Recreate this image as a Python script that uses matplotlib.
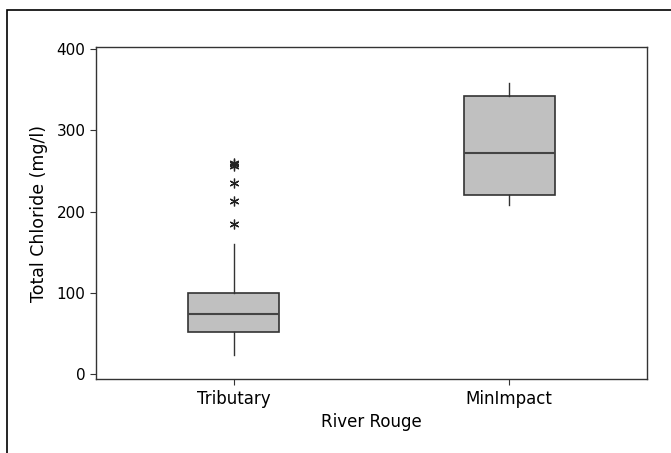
import matplotlib
matplotlib.use("Agg")
import matplotlib.pyplot as plt
from matplotlib.patches import Rectangle

categories = ["Tributary", "MinImpact"]
q1 = [51.5, 220]
median = [74, 271.5]
q3 = [100, 342]
whisker_lo = [24, 208.5]
whisker_hi = [159.5, 358.5]
outliers = [[185, 213.5, 235, 256, 258, 259.5], []]

stats = []
for i, name in enumerate(categories):
    stats.append(dict(label=name, q1=q1[i], med=median[i], q3=q3[i],
                      whislo=whisker_lo[i], whishi=whisker_hi[i],
                      fliers=outliers[i]))

plt.rcParams['font.family'] = ['DejaVu Sans']
fig = plt.figure(figsize=(6.71, 4.53), dpi=100)
ax = fig.add_axes([0.143, 0.163, 0.821, 0.733])

ax.bxp(stats, positions=[1, 2], widths=0.33, patch_artist=True,
       showcaps=False,
       boxprops=dict(facecolor="#c0c0c0", edgecolor="#333333", linewidth=1.2),
       medianprops=dict(color="#444444", linewidth=1.5),
       whiskerprops=dict(color="#333333", linewidth=1.0),
       flierprops=dict(marker=(6, 2, 0), markersize=7, markeredgecolor="#222222",
                       markeredgewidth=0.9, linestyle="none"))

ax.set_xlim(0.5, 2.5)
ax.set_ylim(-6, 402)
ax.set_yticks([0, 100, 200, 300, 400])
ax.tick_params(axis="both", labelsize=11, length=4, color="#333333")
ax.tick_params(axis="x", labelsize=12)
for s in ax.spines.values():
    s.set_color("#333333")
    s.set_linewidth(1.0)

ax.set_xlabel("River Rouge", fontsize=12)
ax.set_ylabel("Total Chloride (mg/l)", fontsize=12.5, labelpad=6)

# outer frame (left and top edges visible)
fig.add_artist(Rectangle((7/671, -0.1), 1.2, 1 - 10/453 + 0.1, transform=fig.transFigure,
                         fill=False, edgecolor="black", linewidth=1.2))

fig.savefig("out.png", dpi=100)
